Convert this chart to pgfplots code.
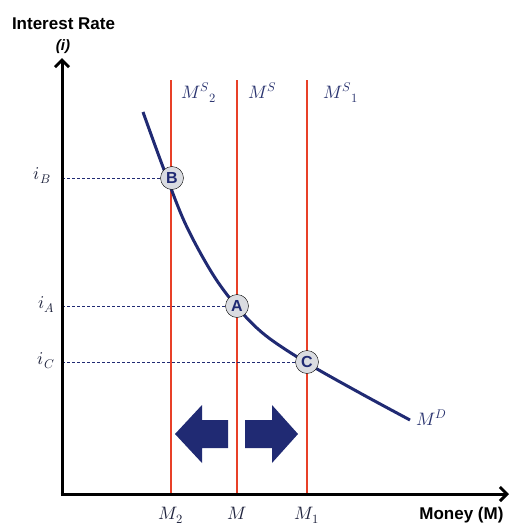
\documentclass[border=0pt]{standalone}
\usepackage{fontspec}
\usepackage{unicode-math}
\setmainfont{Liberation Sans}
\setmathfont{Latin Modern Math}
\usepackage{pgfplots}
\pgfplotsset{compat=1.18}
\usetikzlibrary{arrows.meta}
\definecolor{navy}{RGB}{32,42,115}
\definecolor{lnavy}{RGB}{40,50,110}
\definecolor{dnavy}{RGB}{30,34,60}
\definecolor{sred}{RGB}{232,64,40}
\definecolor{cgrey}{RGB}{218,220,225}
\begin{document}
\begin{tikzpicture}
\begin{axis}[hide axis, scale only axis, width=511pt, height=525pt,
  xmin=0, xmax=511, ymin=0, ymax=525, y dir=reverse, clip=false]
% money supply lines
\addplot[sred, line width=2.2pt] coordinates {(171,80) (171,494)};
\addplot[sred, line width=2.2pt] coordinates {(237,80) (237,494)};
\addplot[sred, line width=2.2pt] coordinates {(307,80) (307,494)};
% dashed guides
\addplot[navy, line width=1pt, dash pattern=on 3pt off 2pt] coordinates {(62,178) (172,178)};
\addplot[navy, line width=1pt, dash pattern=on 3pt off 2pt] coordinates {(62,306) (237,306)};
\addplot[navy, line width=1pt, dash pattern=on 3pt off 2pt] coordinates {(62,362) (307,362)};
% money demand
\addplot[navy, line width=3pt, smooth, tension=0.55] coordinates {(143,112) (163,167) (185,223) (212,273) (237,307) (265,335) (307,363) (360,393) (410,420)};
% block arrows
\addplot[fill=navy, draw=none] coordinates {(175,434) (202,405) (202,420) (228,420) (228,448) (202,448) (202,463)} -- cycle;
\addplot[fill=navy, draw=none] coordinates {(298,434) (272,405) (272,420) (245,420) (245,448) (272,448) (272,463)} -- cycle;
% axes
\addplot[black, line width=3pt, -{Straight Barb[length=7pt,width=14pt]}] coordinates {(62,494) (62,58)};
\addplot[black, line width=3pt, -{Straight Barb[length=7pt,width=14pt]}] coordinates {(60.5,494) (509,494)};
% equilibrium points
\addplot[only marks, mark=*, mark size=11.5pt, mark options={fill=cgrey, draw=none},
  nodes near coords, point meta=explicit symbolic,
  nodes near coords style={anchor=center, text=navy, font=\fontsize{16}{16}\selectfont\bfseries}]
  coordinates {(172,178)[B] (237,306)[A] (307,362)[C]};
% labels
\node[anchor=base, font=\fontsize{17}{20}\selectfont\bfseries] at (axis cs:63.5,29.3) {Interest Rate};
\node[anchor=base, font=\fontsize{15}{18}\selectfont\bfseries\itshape] at (axis cs:63,50) {(i)};
\node[anchor=base east, font=\fontsize{17}{20}\selectfont\bfseries] at (axis cs:507,519) {Money (M)};
\node[anchor=base west, text=lnavy, font=\fontsize{18}{20}\selectfont] at (axis cs:178,98) {$M^{S}{}_{2}$};
\node[anchor=base west, text=lnavy, font=\fontsize{18}{20}\selectfont] at (axis cs:245,98) {$M^{S}$};
\node[anchor=base west, text=lnavy, font=\fontsize{18}{20}\selectfont] at (axis cs:320,98) {$M^{S}{}_{1}$};
\node[anchor=base west, text=lnavy, font=\fontsize{18}{20}\selectfont] at (axis cs:413,425) {$M^{D}$};
\node[anchor=base east, text=dnavy, font=\fontsize{18}{20}\selectfont] at (axis cs:54,179) {$i_{B}$};
\node[anchor=base east, text=dnavy, font=\fontsize{18}{20}\selectfont] at (axis cs:58,308) {$i_{A}$};
\node[anchor=base east, text=dnavy, font=\fontsize{18}{20}\selectfont] at (axis cs:58,364) {$i_{C}$};
\node[anchor=base, text=dnavy, font=\fontsize{18}{20}\selectfont] at (axis cs:171,519) {$M_{2}$};
\node[anchor=base, text=dnavy, font=\fontsize{18}{20}\selectfont] at (axis cs:237,519) {$M$};
\node[anchor=base, text=dnavy, font=\fontsize{18}{20}\selectfont] at (axis cs:307,519) {$M_{1}$};
\end{axis}
\pgfresetboundingbox
\path[use as bounding box] (current axis.south west) rectangle (current axis.north east);
\end{tikzpicture}
\end{document}
